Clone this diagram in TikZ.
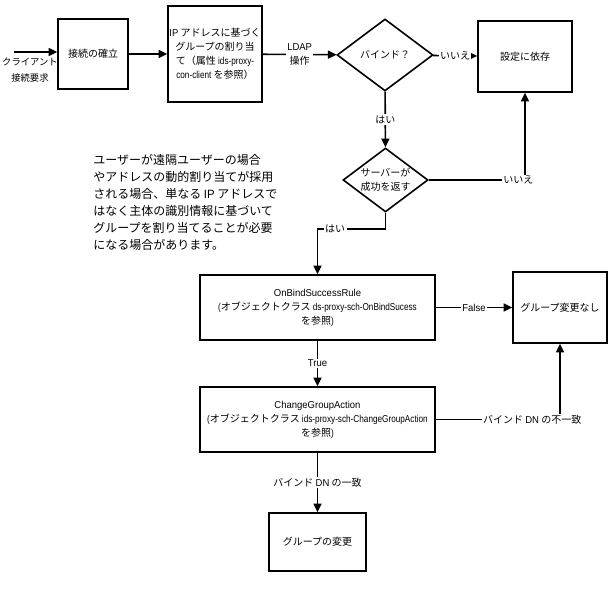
\documentclass[tikz,border=0pt]{standalone}
\usepackage{fontspec}
\setmainfont{Noto Sans CJK JP}
\newfontfamily\latn[FakeStretch=0.82]{Liberation Sans}
\newfontfamily\latw[FakeStretch=0.95]{Liberation Sans}
\newcommand{\la}[1]{{\latn #1}}
\newcommand{\lb}[1]{{\latw #1}}
\usetikzlibrary{arrows.meta,shapes.geometric}
\begin{document}
\begin{tikzpicture}[x=0.75pt,y=-0.75pt,
  txt/.style={font=\fontsize{7.5}{10.5}\selectfont,align=center},
  bx/.style 2 args={draw,line width=1.2pt,txt,inner sep=1pt,
    minimum width=#1*0.75pt,minimum height=#2*0.75pt},
  dm/.style 2 args={draw,line width=1.2pt,txt,diamond,inner sep=0pt,aspect=1.33,
    minimum width=#1*0.75pt,minimum height=#2*0.75pt},
  arr/.style={line width=1.2pt,-{Triangle[length=6.5pt,width=6pt]}},
  lbl/.style={txt,fill=white,inner sep=1pt}]
\useasboundingbox (0,0) rectangle (610,605);

\coordinate (cin) at (14,52);
\node[txt,font=\fontsize{7}{11.5}\selectfont] (client) at (30,70) {クライアント\\接続要求};
\node[bx={70}{70}] (b1) at (93,54) {接続の確立};
\node[bx={92}{96}] (b2) at (215,54) {\lb{IP} アドレスに基づく\\グループの割り当\\て（属性 \la{ids-proxy-}\\\la{con-client} を参照）};
\node[dm={96}{72}] (d1) at (385,55) {バインド？};
\node[bx={94}{71}] (b3) at (525,56.5) {設定に依存};
\node[dm={85}{64}] (d2) at (385.5,180) {サーバーが\\成功を返す};
\node[font=\fontsize{9}{12.75}\selectfont,align=left,anchor=north west,inner sep=0pt] (para) at (93,154)
  {ユーザーが遠隔ユーザーの場合\\やアドレスの動的割り当てが採用\\される場合、単なる \lb{IP} アドレスで\\はなく主体の識別情報に基づいて\\グループを割り当てることが必要\\になる場合があります。};
\node[bx={235}{65}] (b4) at (317.5,307.5) {\lb{OnBindSuccessRule}\\\la{(}オブジェクトクラス \la{ds-proxy-sch-OnBindSucess}\\を参照\la{)}};
\node[bx={94}{71}] (b5) at (560,307.5) {グループ変更なし};
\node[bx={235}{65}] (b6) at (317.5,419.5) {\lb{ChangeGroupAction}\\\la{(}オブジェクトクラス \la{ids-proxy-sch-ChangeGroupAction}\\を参照\la{)}};
\node[bx={97}{58}] (b7) at (317.5,542) {グループの変更};
\coordinate (k1) at (317.5,229);

\draw[arr] (cin) -- (b1.west |- cin);
\draw[arr] (b1) -- (b2);
\draw[arr] (b2) -- node[lbl] {\lb{LDAP}\\操作} (d1);
\draw[arr] (d1) -- node[lbl] {いいえ} (b3);
\draw[arr] (d1) -- node[lbl] {はい} (d2);
\draw[arr] (d2.east) -| node[lbl,pos=0.465] {いいえ} (b3.south);
\draw[arr] (d2.south) |- node[lbl,pos=0.87] {はい} (k1) -- (b4.north);
\draw[arr] (b4) -- node[lbl] {\lb{False}} (b5);
\draw[arr] (b4) -- node[lbl] {\lb{True}} (b6);
\draw[arr] (b6.east) -| node[lbl,pos=0.388] {バインド \lb{DN} の不一致} (b5.south);
\draw[arr] (b6) -- node[lbl] {バインド \lb{DN} の一致} (b7);
\end{tikzpicture}
\end{document}
